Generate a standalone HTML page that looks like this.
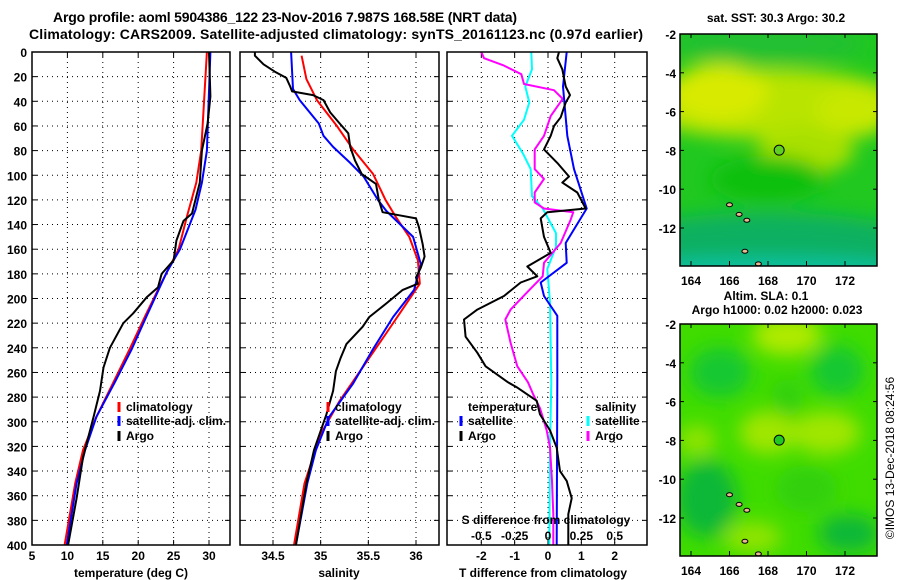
<!DOCTYPE html>
<html><head><meta charset="utf-8"><style>
body{margin:0;background:#fff}
svg{display:block;font-family:"Liberation Sans",sans-serif;font-weight:bold}
text{fill:#000}
</style></head><body>
<svg id="c" width="900" height="580" xmlns="http://www.w3.org/2000/svg">
<defs>
<filter id="blur1" x="-50%" y="-50%" width="200%" height="200%"><feGaussianBlur stdDeviation="9"/></filter>
<filter id="blur2" x="-50%" y="-50%" width="200%" height="200%"><feGaussianBlur stdDeviation="7"/></filter>
<clipPath id="cm1"><rect x="680" y="34" width="197" height="232"/></clipPath>
<clipPath id="cm2"><rect x="680" y="324" width="197" height="232"/></clipPath>
</defs>
<text x="285" y="22" font-size="14" text-anchor="middle" textLength="464">Argo profile: aoml 5904386_122 23-Nov-2016 7.987S 168.58E (NRT data)</text>
<text x="336" y="39" font-size="14" text-anchor="middle" textLength="614">Climatology: CARS2009. Satellite-adjusted climatology: synTS_20161123.nc (0.97d earlier)</text>
<g id="plots"></g>
<text x="776" y="22" font-size="12" text-anchor="middle">sat. SST: 30.3 Argo: 30.2</text>
<text x="766" y="300" font-size="12" text-anchor="middle">Altim. SLA: 0.1</text>
<text x="777" y="314" font-size="12" text-anchor="middle">Argo h1000: 0.02 h2000: 0.023</text>
<text transform="translate(894,458) rotate(-90)" font-size="12" font-weight="normal" text-anchor="middle">©IMOS 13-Dec-2018 08:24:56</text>
</svg>
<script>
// ---- data ----
const depthTicks=[0,20,40,60,80,100,120,140,160,180,200,220,240,260,280,300,320,340,360,380,400];
const tempTicks=[5,10,15,20,25,30];
const salTicks=[34.5,35,35.5,36];
const salTickLabels=["34.5","35","35.5","36"];
const tdTicks=[-2,-1,0,1,2];
const sdTicks=[-0.5,-0.25,0,0.25,0.5];
const sdTickLabels=["-0.5","-0.25","0","0.25","0.5"];

const argoTDepth=[0,36,58,80,106,131,137,153,169,180,191,199,212,220,240,256,275,296,329,362,400];
const argoT=[30.0,30.2,29.8,29.0,28.7,27.6,26.4,25.4,25.0,23.3,22.8,21.2,19.3,17.9,16.0,15.1,14.6,13.7,12.2,11.3,10.1];
const climTDepth=[0,80,106,133,160,187,214,241,268,296,323,350,400];
const climT=[29.7,28.9,28.2,26.9,25.7,23.3,21.0,18.8,16.5,14.1,12.2,11.1,9.6];
const satTDepth=[0,80,106,128,160,179,214,241,268,296,323,350,400];
const satT=[30.2,29.7,29.0,28.1,25.9,24.0,21.2,19.1,16.7,14.1,12.5,11.3,9.9];

const argoSDepth=[0,3,10,16,21,28,32,35,39,49,58,66,77,88,99,107,120,130,132,135,142,156,166,175,183,188,193,204,215,223,237,248,259,275,294,323,350,400];
const argoS=[34.31,34.31,34.40,34.52,34.64,34.68,34.70,34.92,35.03,35.10,35.20,35.29,35.31,35.36,35.43,35.58,35.61,35.65,35.79,36.0,36.03,36.07,36.09,36.05,36.0,36.02,35.86,35.69,35.51,35.44,35.27,35.21,35.16,35.13,35.06,34.93,34.85,34.74];
const climSDepth=[3,22,39,60,79,99,120,134,150,169,188,204,228,256,283,310,350,400];
const climS=[34.80,34.85,34.96,35.17,35.34,35.55,35.68,35.79,35.93,36.02,36.04,35.90,35.69,35.44,35.20,35.00,34.83,34.72];
const satSDepth=[0,30,39,58,68,77,90,101,120,129,150,172,193,215,241,269,296,323,350,400];
const satS=[34.69,34.71,34.78,34.98,35.03,35.13,35.31,35.45,35.60,35.69,35.97,36.05,35.98,35.76,35.55,35.34,35.09,34.95,34.86,34.74];

const argoTdDepth=[0,5,14,28,35,41,53,60,68,79,90,101,106,114,127,130,135,150,163,174,182,187,198,209,217,231,244,255,268,272,283,294,307,321,340,348,362,375,391,400];
const argoTd=[0.33,0.28,0.43,0.53,0.66,0.53,0.38,0.18,0.08,-0.12,0.28,0.63,0.43,0.88,1.13,-0.02,-0.22,-0.12,0.08,-0.62,-0.32,-0.82,-1.32,-2.12,-2.52,-2.47,-2.12,-1.87,-1.2,-0.94,-0.34,-0.24,0.06,0.26,0.36,0.56,0.71,0.61,0.61,0.61];
const satTdDepth=[0,28,68,95,127,155,171,187,198,214,268,400];
const satTd=[0.56,0.45,0.58,0.78,1.16,0.53,0.56,-0.22,-0.12,0.28,0.28,0.26];
const argoSdDepth=[0,5,11,18,26,31,38,52,68,79,95,103,114,122,127,130,136,155,171,182,192,209,217,236,255,268,278,289,307,321,348,375,400];
const argoSd=[-0.50,-0.48,-0.33,-0.20,-0.18,0.045,0.11,0.02,-0.03,-0.10,-0.10,-0.03,-0.10,-0.10,-0.03,0.19,0.17,0.095,-0.03,-0.04,-0.13,-0.28,-0.32,-0.28,-0.23,-0.15,-0.11,-0.06,-0.01,0.015,0.03,0.04,0.04];
const satSdDepth=[0,14,28,41,55,68,82,95,117,127,147,158,176,203,268,321,400];
const satSd=[-0.125,-0.12,-0.17,-0.14,-0.18,-0.27,-0.19,-0.13,-0.12,-0.04,0.06,0.06,-0.005,0.015,0.025,0.015,0.01];

// map axes
const lonTicks=[164,166,168,170,172];
const latTicks=[-2,-4,-6,-8,-10,-12];
const argoLon=168.58, argoLat=-7.987;

// ---- helpers ----
const NS="http://www.w3.org/2000/svg";
const root=document.getElementById('plots');
function el(tag,attrs,parent,txt){const e=document.createElementNS(NS,tag);for(const k in attrs)e.setAttribute(k,attrs[k]);if(txt!==undefined)e.textContent=txt;(parent||root).appendChild(e);return e;}
const Y0=52,Y1=545;
function yD(d){return Y0+d/400*(Y1-Y0);}
function lin(d0,d1,r0,r1){return v=>r0+(v-d0)/(d1-d0)*(r1-r0);}

function panel(name,x0,x1,xs,ticks,labels,labelY){
  const g=el('g',{});
  
  
  // grid
  ticks.forEach(t=>{const x=xs(t);const l=el('line',{x1:x,x2:x,y1:Y0,y2:Y1,stroke:'#000','stroke-width':1,'stroke-dasharray':'1,4'},g);
    
    el('line',{x1:x,x2:x,y1:Y1,y2:Y1-5,stroke:'#000'},g);el('line',{x1:x,x2:x,y1:Y0,y2:Y0+5,stroke:'#000'},g);});
  depthTicks.forEach(d=>{if(d===0||d===400)return;const y=yD(d);const l=el('line',{x1:x0,x2:x1,y1:y,y2:y,stroke:'#000','stroke-width':1,'stroke-dasharray':'1,4'},g);
    
    el('line',{x1:x0,x2:x0+5,y1:y,y2:y,stroke:'#000'},g);el('line',{x1:x1,x2:x1-5,y1:y,y2:y,stroke:'#000'},g);});
  if(labels){ticks.forEach((t,i)=>{const tx=el('text',{x:xs(t),y:labelY,'font-size':12,'text-anchor':'middle'},g,labels[i]);
    });}
  return g;
}
function line(g,name,xs,vals,depths,color,w){
  const pts=vals.map((v,i)=>xs(v).toFixed(1)+','+yD(depths[i]).toFixed(1)).join(' ');
  const p=el('polyline',{points:pts,fill:'none',stroke:color,'stroke-width':w||2,'stroke-linejoin':'round'},g);
  
}
function frame(g,x0,x1){const r=el('rect',{x:x0,y:Y0,width:x1-x0,height:Y1-Y0,fill:'none',stroke:'#000','stroke-width':1.5},g);
  }
function legend(g,x,y,color,label){const b=el('line',{x1:x,x2:x,y1:y-9,y2:y+1,stroke:color,'stroke-width':3},g);
  
  const t=el('text',{x:x+7,y:y,'font-size':12},g,label);
  }

// ---- panel 1: temperature ----
const xT=lin(5,30,32,209);
let g1=panel('temperature-panel',32,230,xT,tempTicks,tempTicks.map(String),560);
line(g1,'temp-climatology-line',xT,climT,climTDepth,'#f00');
line(g1,'temp-satellite-line',xT,satT,satTDepth,'#00f');
line(g1,'temp-argo-line',xT,argoT,argoTDepth,'#000');
frame(g1,32,230);
depthTicks.forEach(d=>{const t=el('text',{x:27,y:yD(d)+5,'font-size':12,'text-anchor':'end'},g1,String(d));
  });
legend(g1,119,411,'#f00','climatology');legend(g1,119,425,'#00f','satellite-adj. clim.');legend(g1,119,440,'#000','Argo');
let t1=el('text',{x:131,y:577,'font-size':12,'text-anchor':'middle'},g1,'temperature (deg C)');


// ---- panel 2: salinity ----
const xS=lin(34.5,36,273,416);
let g2=panel('salinity-panel',240,439,xS,salTicks,salTickLabels,560);
line(g2,'sal-climatology-line',xS,climS,climSDepth,'#f00');
line(g2,'sal-satellite-line',xS,satS,satSDepth,'#00f');
line(g2,'sal-argo-line',xS,argoS,argoSDepth,'#000');
frame(g2,240,439);
legend(g2,328,411,'#f00','climatology');legend(g2,328,425,'#00f','satellite-adj. clim.');legend(g2,328,440,'#000','Argo');
let t2=el('text',{x:339,y:577,'font-size':12,'text-anchor':'middle'},g2,'salinity');


// ---- panel 3: differences ----
const xTd=lin(-2,2,481.3,614.7);
const xSd=v=>xTd(v*4);
let g3=panel('difference-panel',447,647,xTd,tdTicks,tdTicks.map(String),560);
line(g3,'sal-diff-satellite-line',xSd,satSd,satSdDepth,'#0ff');
line(g3,'sal-diff-argo-line',xSd,argoSd,argoSdDepth,'#f0f');
line(g3,'temp-diff-satellite-line',xTd,satTd,satTdDepth,'#00f');
line(g3,'temp-diff-argo-line',xTd,argoTd,argoTdDepth,'#000');
frame(g3,447,647);
let lt=el('text',{x:468,y:411,'font-size':12},g3,'temperature');
legend(g3,461,425,'#00f','satellite');legend(g3,461,440,'#000','Argo');
let ls=el('text',{x:595,y:411,'font-size':12},g3,'salinity');
legend(g3,588,425,'#0ff','satellite');legend(g3,588,440,'#f0f','Argo');
let sdt=el('text',{x:546,y:524,'font-size':12,'text-anchor':'middle'},g3,'S difference from climatology');

sdTicks.forEach((v,i)=>{const t=el('text',{x:xSd(v),y:540,'font-size':12,'text-anchor':'middle'},g3,sdTickLabels[i]);
  });
let t3=el('text',{x:543,y:577,'font-size':12,'text-anchor':'middle'},g3,'T difference from climatology');


// ---- maps ----
function map(name,top,clip,blobs,base,dot){
  const lonX=lin(164,172,691,845), latY=lin(-2,-12,top,top+194);
  const g=el('g',{});
  
  const inner=el('g',{'clip-path':'url(#'+clip+')'},g);
  el('rect',{x:680,y:top,width:197,height:232,fill:base},inner);
  const bg=el('g',{filter:'url(#blur1)'},inner);
  blobs.forEach(b=>el('ellipse',{cx:lonX(b[0]),cy:latY(b[1]),rx:b[2]*19.25,ry:b[3]*19.4,fill:b[4]},bg));
  // islands
  [[166,-10.8],[166.9,-11.6],[167.5,-13.85],[166.5,-11.3],[166.8,-13.2]].forEach(p=>{
    const e=el('ellipse',{cx:lonX(p[0]),cy:latY(p[1]),rx:3,ry:2,fill:'#e8b890',stroke:'#000','stroke-width':1},inner);
    });
  const c=el('circle',{cx:lonX(argoLon),cy:latY(argoLat),r:5,fill:dot,stroke:'#000','stroke-width':1},g);
  
  el('rect',{x:680,y:top,width:197,height:232,fill:'none',stroke:'#000','stroke-width':1.5},g);
  lonTicks.forEach(v=>{const x=lonX(v);el('line',{x1:x,x2:x,y1:top+232,y2:top+227,stroke:'#000'},g);el('line',{x1:x,x2:x,y1:top,y2:top+4,stroke:'#000'},g);
    const t=el('text',{x:x,y:top+251,'font-size':12,'text-anchor':'middle'},g,String(v));
    });
  latTicks.forEach(v=>{const y=latY(v);el('line',{x1:680,x2:684,y1:y,y2:y,stroke:'#000'},g);el('line',{x1:877,x2:873,y1:y,y2:y,stroke:'#000'},g);
    const t=el('text',{x:676,y:y+5,'font-size':12,'text-anchor':'end'},g,String(v));
    });
}
map('sst-map',34,'cm1',[
  [168,-5.6,7,1.8,'#b8e400'],[165.5,-5,2.5,1.5,'#d8ea00'],[172.5,-6,2,1.3,'#c8e800'],[170,-8,2.5,1.2,'#a8e000'],
  [168,-2.5,5,1,'#20c030'],[168,-9.5,3,1.2,'#10c010'],
  [168,-12.8,8,1.6,'#10b060'],[168,-14.2,8,0.7,'#10c0a0']],'#20c820','#60d020');
map('sla-map',324,'cm2',[
  [169,-2.6,1.8,1,'#b0ea00'],[168,-7.6,1.5,1.1,'#a0e600'],[171,-7.6,1.8,1.1,'#a0e600'],[164.3,-8,1,0.8,'#90e400'],[167.2,-13,1.5,0.8,'#90e400'],
  [165.5,-4.5,1.6,1.3,'#18c830'],[171.6,-4.4,1.4,1.3,'#18c830'],[164.8,-11,1.6,2,'#10b838'],[172.2,-12.8,1.6,1,'#10b838'],[169,-5.8,0.8,1,'#30d010'],[170,-10.5,1.6,1.2,'#30d010']],'#40dc00','#20c820');
</script>
</body></html>
